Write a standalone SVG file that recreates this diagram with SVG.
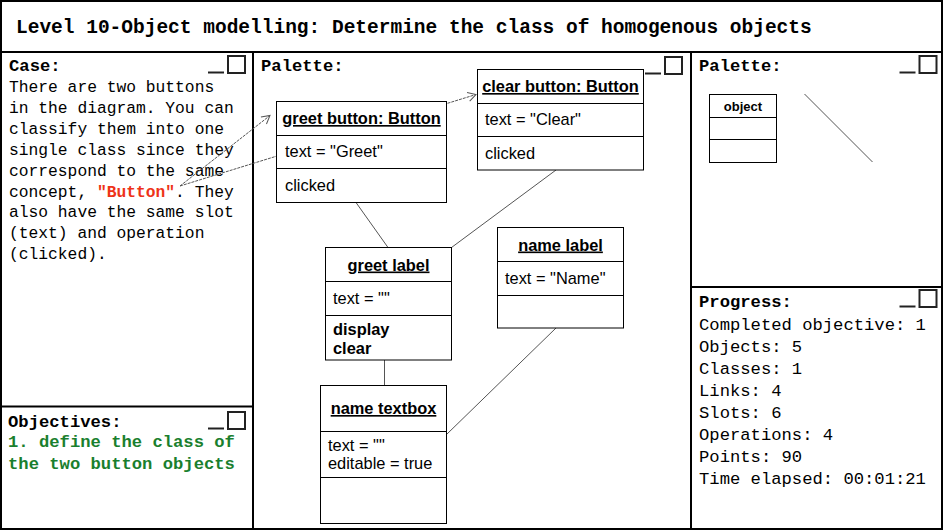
<svg xmlns="http://www.w3.org/2000/svg" width="943" height="530" viewBox="0 0 943 530">
<style>
.frame{fill:none;stroke:#000;stroke-width:2}
.mono{font-family:"Liberation Mono","DejaVu Sans Mono",monospace;fill:#000}
.case{font-size:16.3px}
.prog{font-size:17.2px}
.ttl{font-weight:bold;font-size:17.2px}
.box{fill:#fff;stroke:#000;stroke-width:1}
.sep{stroke:#000;stroke-width:1}
.sans{font-family:"Liberation Sans",Arial,sans-serif;font-size:16.4px;fill:#000}
.head{font-weight:bold;text-anchor:middle;text-decoration:underline}
.link{stroke:#555;stroke-width:1;fill:none}
.hint{stroke:#555;stroke-width:1;stroke-dasharray:3,1;fill:none}
.icon{fill:none;stroke:#222;stroke-width:2}
</style>
<defs>
<g id="winicon">
<line class="icon" x1="0" y1="16.5" x2="16" y2="16.5"/>
<rect class="icon" x="20" y="0" width="17" height="17"/>
</g>
<marker id="open" markerWidth="12" markerHeight="12" refX="10" refY="6" orient="auto" markerUnits="userSpaceOnUse">
<path d="M2,1.5 L10,6 L2,10.5" fill="none" stroke="#555" stroke-width="1"/>
</marker>
</defs>
<rect width="943" height="530" fill="#fff"/>
<g id="panels">
<rect class="frame" x="1" y="1" width="941" height="528"/>
<line class="frame" x1="0" y1="52" x2="943" y2="52"/>
<line class="frame" x1="253" y1="52" x2="253" y2="530"/>
<line class="frame" x1="691" y1="52" x2="691" y2="530"/>
<line class="frame" x1="0" y1="406.5" x2="253" y2="406.5"/>
<line class="frame" x1="691" y1="287" x2="943" y2="287"/>
<use href="#winicon" x="208" y="56"/>
<use href="#winicon" x="645" y="57"/>
<use href="#winicon" x="899.5" y="56"/>
<use href="#winicon" x="899.5" y="290"/>
<use href="#winicon" x="208" y="412"/>
</g>
<g id="header">
<text class="mono" x="16" y="33" font-size="19.5" font-weight="bold">Level 10-Object modelling: Determine the class of homogenous objects</text>
</g>
<g id="case-panel">
<text class="mono ttl" x="9" y="71">Case:</text>
<text class="mono case" x="9" y="92">There are two buttons</text>
<text class="mono case" x="9" y="113">in the diagram. You can</text>
<text class="mono case" x="9" y="134">classify them into one</text>
<text class="mono case" x="9" y="155">single class since they</text>
<text class="mono case" x="9" y="175.5">correspond to the same</text>
<text class="mono case" x="9" y="196.5">concept, <tspan fill="#ee3318" font-weight="bold">"Button"</tspan>. They</text>
<text class="mono case" x="9" y="217">also have the same slot</text>
<text class="mono case" x="9" y="238">(text) and operation</text>
<text class="mono case" x="9" y="259">(clicked).</text>
</g>
<g id="objectives-panel">
<text class="mono ttl" x="8" y="427">Objectives:</text>
<text class="mono prog" x="8" y="447" font-weight="bold" style="fill:#1a7f2e">1. define the class of</text>
<text class="mono prog" x="8" y="469" font-weight="bold" style="fill:#1a7f2e">the two button objects</text>
</g>
<g id="palette-title">
<text class="mono ttl" x="261" y="71">Palette:</text>
</g>
<g id="connectors">
<line class="link" x1="356" y1="202.5" x2="388" y2="247.5"/>
<line class="link" x1="556" y1="170" x2="451.5" y2="247.5"/>
<line class="link" x1="384.5" y1="360" x2="384.5" y2="385.5"/>
<line class="link" x1="556" y1="328" x2="446.5" y2="434.5"/>
<line class="hint" x1="180" y1="186" x2="270" y2="115.5" marker-end="url(#open)"/>
<line class="hint" x1="180" y1="186" x2="476" y2="94.5" marker-end="url(#open)"/>
</g>
<g id="greet-button">
<rect class="box" x="276.5" y="101.5" width="170" height="101"/>
<line class="sep" x1="276.5" y1="135.5" x2="446.5" y2="135.5"/>
<line class="sep" x1="276.5" y1="168.5" x2="446.5" y2="168.5"/>
<text class="sans head" x="361.5" y="124">greet button: Button</text>
<text class="sans" x="285" y="157">text = "Greet"</text>
<text class="sans" x="285" y="190.5">clicked</text>
</g>
<g id="clear-button">
<rect class="box" x="477.5" y="69.5" width="166" height="100.5"/>
<line class="sep" x1="477.5" y1="103.5" x2="643.5" y2="103.5"/>
<line class="sep" x1="477.5" y1="136.5" x2="643.5" y2="136.5"/>
<text class="sans head" x="560.5" y="92">clear button: Button</text>
<text class="sans" x="485" y="125">text = "Clear"</text>
<text class="sans" x="485" y="158.5">clicked</text>
</g>
<g id="greet-label">
<rect class="box" x="325.5" y="247.5" width="126" height="112.5"/>
<line class="sep" x1="325.5" y1="281.5" x2="451.5" y2="281.5"/>
<line class="sep" x1="325.5" y1="315.5" x2="451.5" y2="315.5"/>
<text class="sans head" x="388.5" y="270.5">greet label</text>
<text class="sans" x="333" y="304">text = ""</text>
<text class="sans" x="333" y="335" font-weight="bold">display</text>
<text class="sans" x="333" y="353.5" font-weight="bold">clear</text>
</g>
<g id="name-label">
<rect class="box" x="497.5" y="227.5" width="126" height="100.5"/>
<line class="sep" x1="497.5" y1="261.5" x2="623.5" y2="261.5"/>
<line class="sep" x1="497.5" y1="295.5" x2="623.5" y2="295.5"/>
<text class="sans head" x="560.5" y="250.5">name label</text>
<text class="sans" x="505" y="283.5">text = "Name"</text>
</g>
<g id="name-textbox">
<rect class="box" x="320.5" y="385.5" width="126" height="138"/>
<line class="sep" x1="320.5" y1="431.5" x2="446.5" y2="431.5"/>
<line class="sep" x1="320.5" y1="477.5" x2="446.5" y2="477.5"/>
<text class="sans head" x="383.5" y="414">name textbox</text>
<text class="sans" x="328" y="450.5">text = ""</text>
<text class="sans" x="328" y="469">editable = true</text>
</g>
<g id="palette-right">
<text class="mono ttl" x="699" y="71">Palette:</text>
<g id="palette-object">
<rect class="box" x="709.5" y="94.5" width="67" height="68"/>
<line class="sep" x1="709.5" y1="117.5" x2="776.5" y2="117.5"/>
<line class="sep" x1="709.5" y1="139.5" x2="776.5" y2="139.5"/>
<text class="sans" x="743" y="111" font-weight="bold" text-anchor="middle" style="font-size:13px">object</text>
</g>
<line class="link" x1="804.5" y1="94" x2="872.5" y2="162"/>
</g>
<g id="progress-panel">
<text class="mono ttl" x="699" y="307">Progress:</text>
<text class="mono prog" x="699" y="330">Completed objective: 1</text>
<text class="mono prog" x="699" y="352">Objects: 5</text>
<text class="mono prog" x="699" y="374">Classes: 1</text>
<text class="mono prog" x="699" y="396">Links: 4</text>
<text class="mono prog" x="699" y="418">Slots: 6</text>
<text class="mono prog" x="699" y="440">Operations: 4</text>
<text class="mono prog" x="699" y="462">Points: 90</text>
<text class="mono prog" x="699" y="484">Time elapsed: 00:01:21</text>
</g>
</svg>
